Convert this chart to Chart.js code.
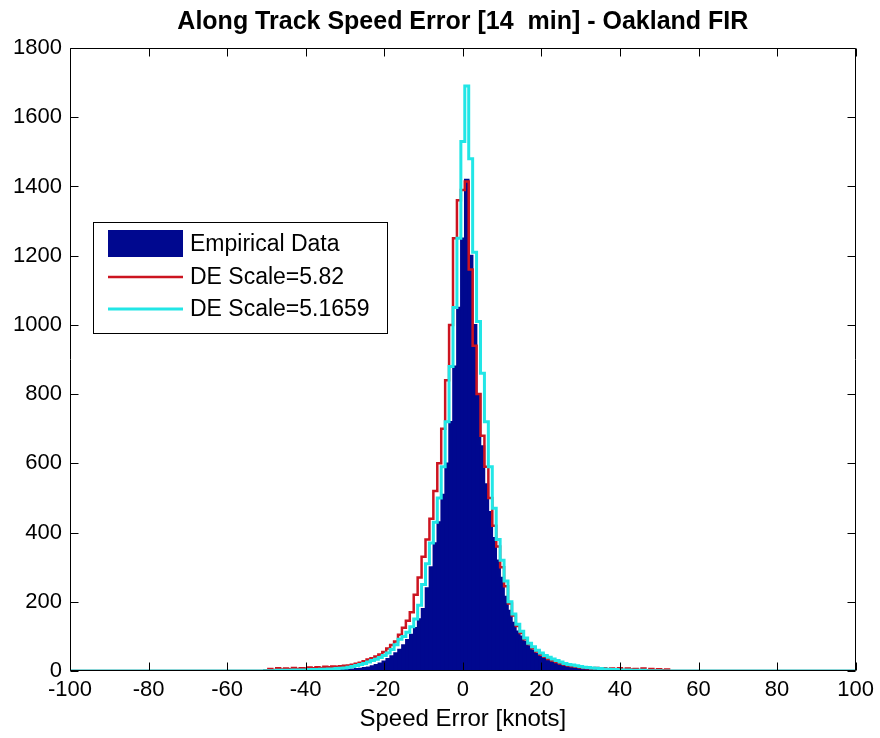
<!DOCTYPE html>
<html><head><meta charset="utf-8">
<script src="https://cdn.jsdelivr.net/npm/chart.js@4.4.1/dist/chart.umd.min.js"></script>
<style>html,body{margin:0;padding:0;background:#fff;overflow:hidden}#wrap{width:880px;height:738px;position:relative}</style>
</head><body><div id="wrap"><canvas id="c" width="880" height="738"></canvas></div>
<script>
// ---------------- data ----------------
const chartTitle = 'Along Track Speed Error [14  min] - Oakland FIR';
const xAxisTitle = 'Speed Error [knots]';
const xTicks = [-100, -80, -60, -40, -20, 0, 20, 40, 60, 80, 100];
const yTicks = [0, 200, 400, 600, 800, 1000, 1200, 1400, 1600, 1800];
const seriesNames = ['Empirical Data', 'DE Scale=5.82', 'DE Scale=5.1659'];

// histogram bin centres (1 knot wide)
const speedBins = [
  -60,-59,-58,-57,-56,-55,-54,-53,-52,-51,
  -50,-49,-48,-47,-46,-45,-44,-43,-42,-41,
  -40,-39,-38,-37,-36,-35,-34,-33,-32,-31,
  -30,-29,-28,-27,-26,-25,-24,-23,-22,-21,
  -20,-19,-18,-17,-16,-15,-14,-13,-12,-11,
  -10,-9,-8,-7,-6,-5,-4,-3,-2,-1,
  0,1,2,3,4,5,6,7,8,9,
  10,11,12,13,14,15,16,17,18,19,
  20,21,22,23,24,25,26,27,28,29,
  30,31,32,33,34,35,36,37,38,39,
  40,41,42,43,44,45,46,47,48,49,
  50,51,52,53,54,55,56,57,58,59,60
];

const empirical = [
  0,0,0,0,0,0,0,0,0,0,
  1,1,1,1,2,1,2,2,2,2,
  2,2,2,3,2,3,3,3,3,4,
  4,4,5,6,7,9,11,14,18,22,
  28,35,43,52,62,75,90,105,125,150,
  180,240,300,370,430,510,600,720,880,1050,
  1250,1420,1200,1000,800,650,540,460,385,320,
  270,215,175,140,115,100,85,72,60,50,
  42,37,30,26,22,18,15,12,10,8,
  7,6,5,4,4,3,3,3,2,2,
  2,2,1,1,2,1,1,1,1,1,
  1,0,0,0,0,0,0,0,0,0,0
];

const deScale582 = [
  0,0,0,0,0,0,0,0,0,0,
  2,6,3,8,4,7,5,9,6,8,
  7,10,8,11,9,12,11,13,12,14,
  15,16,18,21,24,28,33,37,42,48,
  55,65,75,85,105,125,145,170,220,270,
  330,380,440,520,600,700,840,1000,1250,1360,
  1390,1414,1160,940,800,680,590,500,420,360,
  300,245,195,160,130,110,92,78,66,56,
  48,41,35,30,26,22,19,16,14,12,
  10,9,8,7,9,6,8,5,7,4,
  8,3,7,4,6,3,7,2,6,3,
  5,2,4,0,0,0,0,0,0,0,0
];

const deScale51659 = [
  0,0,0,0,0,0,0,0,0,0,
  1,1,1,2,2,2,2,3,3,3,
  3,4,4,4,5,5,6,6,7,8,
  9,11,13,16,19,22,26,30,34,39,
  45,52,62,76,92,100,112,128,150,190,
  250,310,370,430,500,590,720,880,1050,1250,
  1530,1690,1480,1210,1010,860,720,590,470,380,
  320,260,200,165,135,115,95,80,70,60,
  52,45,40,35,30,26,22,19,17,15,
  13,11,10,9,8,7,6,5,4,4,
  3,3,3,2,2,2,2,1,1,1,
  1,0,0,0,0,0,0,0,0,0,0
];

// ---------------- styling ----------------
const NAVY = '#00088f', RED = '#cc1420', CYAN = '#22e6e6';

function hasFont(name) {
  const c = document.createElement('canvas').getContext('2d');
  const s = '0123456789abcdefMWxyz';
  c.font = '40px monospace'; const a = c.measureText(s).width;
  c.font = '40px "' + name + '", monospace'; const b = c.measureText(s).width;
  return Math.abs(a - b) > 0.5;
}
const NARROW = hasFont('Liberation Sans Narrow');
const FAMILY = NARROW ? '"Liberation Sans Narrow", "Liberation Sans", sans-serif' : '"Liberation Sans", Arial, sans-serif';
const K = NARROW ? 1.22 : 1;
const TICK_FONT = { family: FAMILY, size: Math.round(22 * K) };
const AXIS_FONT = { family: FAMILY, size: Math.round(24 * K) };
const LEGEND_SIZE = Math.round(23 * K);
const TITLE_SIZE = Math.round(25 * K);

const xMin = xTicks[0], xMax = xTicks[xTicks.length - 1];
const barData = speedBins.map((x, i) => ({ x: x, y: empirical[i] }));
const lineData = vals => [{ x: xMin, y: 0 }].concat(speedBins.map((x, i) => ({ x: x, y: vals[i] })), [{ x: xMax, y: 0 }]);

const framePlugin = {
  id: 'frame',
  afterDatasetsDraw(chart) {
    const ctx = chart.ctx, a = chart.chartArea;
    const xs = chart.scales.x, ys = chart.scales.y;
    const L = Math.round(a.left) + 0.5, R = Math.round(a.right) - 0.5;
    const T = Math.round(a.top) + 0.5, B = Math.round(a.bottom) - 0.5;
    const tl = 8;
    ctx.save();
    ctx.strokeStyle = '#000'; ctx.lineWidth = 1;
    ctx.beginPath();
    ctx.rect(L, T, R - L, B - T);
    xTicks.forEach(v => {
      const px = Math.round(xs.getPixelForValue(v)) + 0.5;
      ctx.moveTo(px, B); ctx.lineTo(px, B - tl);
      ctx.moveTo(px, T); ctx.lineTo(px, T + tl);
    });
    yTicks.forEach(v => {
      const py = Math.round(ys.getPixelForValue(v)) + 0.5;
      ctx.moveTo(L, py); ctx.lineTo(L + tl, py);
      ctx.moveTo(R, py); ctx.lineTo(R - tl, py);
    });
    ctx.stroke();

    // legend
    const bx = 93.5, by = 222.5, bw = 294, bh = 111;
    ctx.fillStyle = '#fff';
    ctx.fillRect(bx, by, bw, bh);
    ctx.strokeRect(bx, by, bw, bh);
    ctx.fillStyle = NAVY;
    ctx.fillRect(108, 230, 75, 27);
    ctx.lineCap = 'butt';
    ctx.strokeStyle = RED; ctx.lineWidth = 2.5;
    ctx.beginPath(); ctx.moveTo(108, 277); ctx.lineTo(183, 277); ctx.stroke();
    ctx.strokeStyle = CYAN; ctx.lineWidth = 3;
    ctx.beginPath(); ctx.moveTo(108, 309); ctx.lineTo(183, 309); ctx.stroke();
    ctx.fillStyle = '#000';
    ctx.font = LEGEND_SIZE + 'px ' + FAMILY;
    ctx.textAlign = 'left'; ctx.textBaseline = 'middle';
    ctx.fillText(seriesNames[0], 190, 245);
    ctx.fillText(seriesNames[1], 190, 278);
    ctx.fillText(seriesNames[2], 190, 310);

    // title
    ctx.font = 'bold ' + TITLE_SIZE + 'px ' + FAMILY;
    ctx.textAlign = 'center';
    ctx.fillText(chartTitle, (a.left + a.right) / 2, 22);
    ctx.restore();
  }
};

new Chart(document.getElementById('c'), {
  type: 'bar',
  data: {
    datasets: [
      { type: 'line', label: seriesNames[2], data: lineData(deScale51659), borderColor: CYAN, backgroundColor: CYAN,
        borderWidth: 3, pointRadius: 0, stepped: 'middle', fill: false, order: 1 },
      { type: 'line', label: seriesNames[1], data: lineData(deScale582), borderColor: RED, backgroundColor: RED,
        borderWidth: 2.5, pointRadius: 0, stepped: 'middle', fill: false, order: 2 },
      { type: 'bar', label: seriesNames[0], data: barData, backgroundColor: NAVY, borderColor: NAVY, borderWidth: 0,
        inflateAmount: 0.8, barPercentage: 1, categoryPercentage: 1, grouped: false, order: 3 }
    ]
  },
  options: {
    responsive: false, animation: false, events: [],
    layout: { padding: { left: 0, right: 23, top: 48, bottom: 0 } },
    plugins: { legend: { display: false }, title: { display: false }, tooltip: { enabled: false } },
    scales: {
      x: {
        type: 'linear', min: xMin, max: xMax, offset: false,
        grid: { display: false, drawTicks: false }, border: { display: false },
        afterBuildTicks: s => { s.ticks = xTicks.map(v => ({ value: v })); },
        ticks: { autoSkip: false, maxRotation: 0, color: '#000', font: TICK_FONT, padding: 6, callback: v => String(v) },
        title: { display: true, text: xAxisTitle, color: '#000', font: AXIS_FONT, padding: { top: 0, bottom: 4 } },
        afterFit: s => { s.height = 67; }
      },
      y: {
        type: 'linear', min: yTicks[0], max: yTicks[yTicks.length - 1],
        grid: { display: false, drawTicks: false }, border: { display: false },
        afterBuildTicks: s => { s.ticks = yTicks.map(v => ({ value: v })); },
        ticks: { autoSkip: false, color: '#000', font: TICK_FONT, padding: 8, callback: v => String(v) },
        afterFit: s => { s.width = 70; }
      }
    }
  },
  plugins: [framePlugin]
});
</script>
</body></html>
